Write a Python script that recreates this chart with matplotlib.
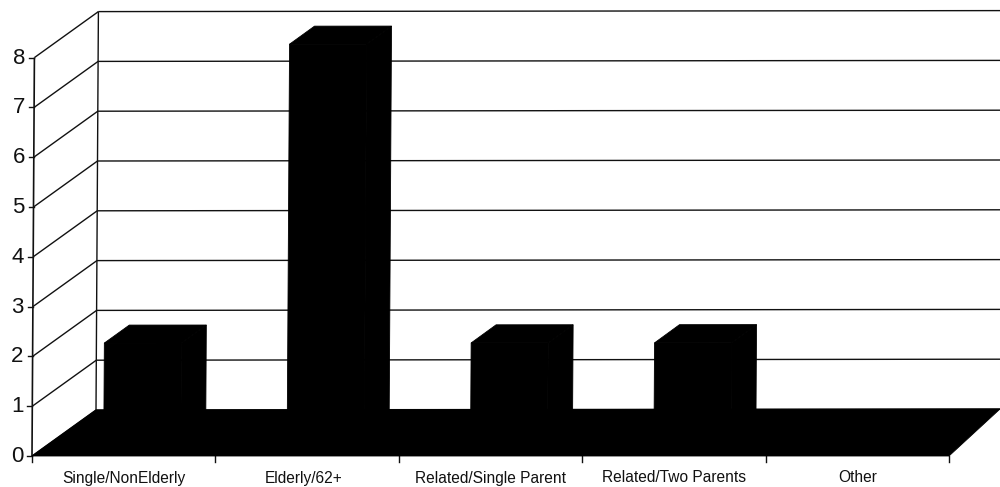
#!/usr/bin/env python3
import matplotlib
matplotlib.use('Agg')
import matplotlib.pyplot as plt
from matplotlib.patches import Polygon

CATEGORIES = ['Single/NonElderly', 'Elderly/62+', 'Related/Single Parent', 'Related/Two Parents', 'Other']
VALUES = [2, 8, 2, 2, 0]
Y_TICKS = [0, 1, 2, 3, 4, 5, 6, 7, 8]

# oblique projection of (category, value, depth) onto the canvas
ORIGIN_X = 32
ORIGIN_Y = 456
CAT_WIDTH = 183.4
UNIT_Y = 49.8
DEPTH_X = 64
DEPTH_Y = 46
DEPTH_SHRINK = 2.6
LEAN = 0.3
SAG = 0.2

BAR_START = 0.29
BAR_WIDTH = 0.42
BAR_FRONT = 0.29
BAR_BACK = 0.68
LABEL_SHIFT = [0, -0.02, 0, 0, 0]


def project(c, v, d, shrink=DEPTH_SHRINK):
    x = ORIGIN_X + CAT_WIDTH * c + DEPTH_X * d - shrink * c * d + LEAN * v
    y = ORIGIN_Y - UNIT_Y * v - DEPTH_Y * d - SAG * c * d
    return x, y


def face(ax, corners, shrink=DEPTH_SHRINK):
    pts = [project(*p, shrink=shrink) for p in corners]
    ax.add_patch(Polygon(pts, closed=True, fc='black', ec='black', lw=0.6, zorder=3))


def line(ax, a, b, lw=1.0, color='#111111'):
    pa = project(*a)
    pb = project(*b)
    ax.plot([pa[0], pb[0]], [pa[1], pb[1]], color=color, lw=lw, zorder=1, solid_capstyle='butt')


def main():
    plt.rcParams['font.family'] = ['Liberation Sans', 'DejaVu Sans']
    fig = plt.figure(figsize=(10, 4.87), dpi=100)
    ax = fig.add_axes([0, 0, 1, 1])
    ax.set_xlim(0, 1000)
    ax.set_ylim(487, 0)
    ax.axis('off')

    n = len(CATEGORIES)
    top = Y_TICKS[-1]

    # gridlines on the back wall and the diagonals on the side wall
    for v in Y_TICKS:
        line(ax, (0, v, 0), (0, v, 1))
        line(ax, (0, v, 1), (n, v, 1))
        pa = project(0, v, 0)
        ax.plot([pa[0] - 5, pa[0]], [pa[1], pa[1]], color='#111111', lw=1.0)
        ax.text(pa[0] - 9, pa[1] + 0.5, str(v), ha='right', va='center', fontsize=16, color='#111111')
    line(ax, (0, 0, 0), (0, top, 0), lw=1.2)
    line(ax, (0, 0, 1), (0, top, 1), lw=1.0)

    # floor
    face(ax, [(0, 0, 0), (n, 0, 0), (n, 0, 1), (0, 0, 1)])

    for i in range(n + 1):
        pa = project(i, 0, 0)
        ax.plot([pa[0], pa[0]], [pa[1], pa[1] + 6], color='#111111', lw=1.0)

    for i, (name, val) in enumerate(zip(CATEGORIES, VALUES)):
        if val > 0:
            c0 = i + BAR_START
            c1 = c0 + BAR_WIDTH
            face(ax, [(c0, 0, BAR_FRONT), (c1, 0, BAR_FRONT), (c1, val, BAR_FRONT), (c0, val, BAR_FRONT)], shrink=0)
            face(ax, [(c0, val, BAR_FRONT), (c1, val, BAR_FRONT), (c1, val, BAR_BACK), (c0, val, BAR_BACK)], shrink=0)
            face(ax, [(c1, 0, BAR_FRONT), (c1, 0, BAR_BACK), (c1, val, BAR_BACK), (c1, val, BAR_FRONT)], shrink=0)
        px, py = project(i + 0.5 + LABEL_SHIFT[i], 0, 0)
        ax.text(px, py + 22, name, ha='center', va='center', fontsize=11.2, color='#111111')

    fig.savefig('out.png', dpi=100)


if __name__ == "__main__":
    main()
